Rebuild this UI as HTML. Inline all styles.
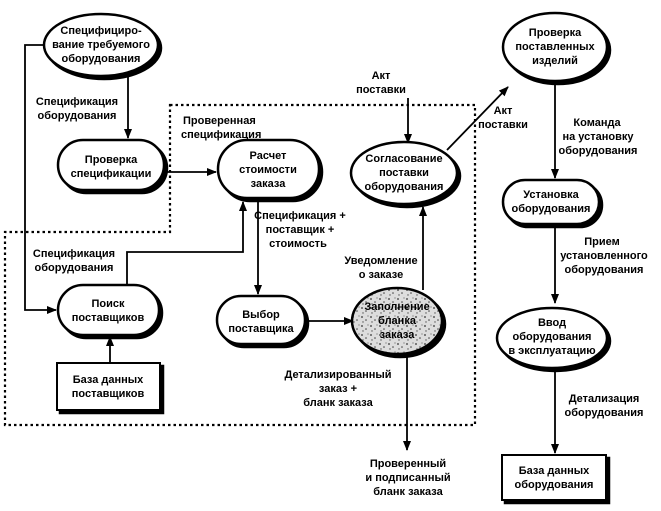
<!DOCTYPE html>
<html><head><meta charset="utf-8"><style>
html,body{margin:0;padding:0;background:#fff;}
svg{display:block;}
text{font-family:"Liberation Sans","DejaVu Sans",sans-serif;font-size:11px;font-weight:bold;fill:#000;text-anchor:middle;}
.l{text-anchor:start;}
</style></head><body>
<svg width="661" height="511" viewBox="0 0 661 511" xmlns="http://www.w3.org/2000/svg">
<defs>
<marker id="a" markerWidth="10" markerHeight="10" refX="9" refY="5" orient="auto" markerUnits="userSpaceOnUse">
<path d="M0,1 L10,5 L0,9 Z" fill="#000"/></marker>
<pattern id="sp" width="9" height="9" patternUnits="userSpaceOnUse">
<rect width="9" height="9" fill="#ddd"/>
<circle cx="2" cy="2" r="0.9" fill="#333"/><circle cx="6" cy="5" r="0.8" fill="#444"/><circle cx="3" cy="7" r="0.7" fill="#555"/><circle cx="8" cy="1" r="0.6" fill="#666"/>
</pattern>
</defs>

<!-- dotted boundary -->
<path d="M170,105 L475,105 L475,425 L5,425 L5,232 L170,232 Z" fill="none" stroke="#000" stroke-width="2.2" stroke-dasharray="2.5,3"/>

<g stroke="#000" stroke-width="1.8" fill="none">
<!-- N1 left to N7 -->
<path d="M46,45 L25,45 L25,310 L56,310" marker-end="url(#a)"/>
<path d="M128,76 L128,138" marker-end="url(#a)"/>
<path d="M166,172 L216,172" marker-end="url(#a)"/>
<path d="M127,285 L127,252 L243,252 L243,202" marker-end="url(#a)"/>
<path d="M258,201 L258,294" marker-end="url(#a)"/>
<path d="M306,321 L353,321" marker-end="url(#a)"/>
<path d="M423,290 L423,207" marker-end="url(#a)"/>
<path d="M408,98 L408,143" marker-end="url(#a)"/>
<path d="M447,150 L508,87" marker-end="url(#a)"/>
<path d="M555,80 L555,178" marker-end="url(#a)"/>
<path d="M555,226 L555,303" marker-end="url(#a)"/>
<path d="M555,368 L555,453" marker-end="url(#a)"/>
<path d="M407,351 L407,450" marker-end="url(#a)"/>
<path d="M110,362 L110,337" marker-end="url(#a)"/>
</g>

<!-- nodes: shadow + shape -->
<g stroke="#000" stroke-width="2.5">
<ellipse cx="104" cy="48" rx="57" ry="31" fill="#000"/>
<ellipse cx="101" cy="45" rx="57" ry="31" fill="#fff"/>
<rect x="61" y="143" width="106" height="50" rx="25" fill="#000"/>
<rect x="58" y="140" width="106" height="50" rx="25" fill="#fff"/>
<rect x="221" y="143" width="101" height="58" rx="29" fill="#000"/>
<rect x="218" y="140" width="101" height="58" rx="29" fill="#fff"/>
<ellipse cx="407" cy="176" rx="53" ry="31" fill="#000"/>
<ellipse cx="404" cy="173" rx="53" ry="31" fill="#fff"/>
<ellipse cx="558" cy="50" rx="52" ry="34" fill="#000"/>
<ellipse cx="555" cy="47" rx="52" ry="34" fill="#fff"/>
<rect x="506" y="183" width="96" height="44" rx="22" fill="#000"/>
<rect x="503" y="180" width="96" height="44" rx="22" fill="#fff"/>
<rect x="61" y="288" width="101" height="50" rx="25" fill="#000"/>
<rect x="58" y="285" width="101" height="50" rx="25" fill="#fff"/>
<rect x="220" y="299" width="88" height="48" rx="24" fill="#000"/>
<rect x="217" y="296" width="88" height="48" rx="24" fill="#fff"/>
<ellipse cx="400" cy="324" rx="45" ry="33" fill="#000"/>
<ellipse cx="397" cy="321" rx="45" ry="33" fill="url(#sp)"/>
<ellipse cx="555" cy="341" rx="55" ry="30" fill="#000"/>
<ellipse cx="552" cy="338" rx="55" ry="30" fill="#fff"/>
<rect x="60" y="366" width="103" height="47" fill="#000"/>
<rect x="57" y="363" width="103" height="47" fill="#fff" stroke-width="2"/>
<rect x="505" y="458" width="104" height="45" fill="#000"/>
<rect x="502" y="455" width="104" height="45" fill="#fff" stroke-width="2"/>
</g>

<!-- node text -->
<text x="101" y="34">Специфициро-</text><text x="101" y="48">вание требуемого</text><text x="101" y="62">оборудования</text>
<text x="111" y="163">Проверка</text><text x="111" y="177">спецификации</text>
<text x="268" y="159">Расчет</text><text x="268" y="173">стоимости</text><text x="268" y="187">заказа</text>
<text x="404" y="162">Согласование</text><text x="404" y="176">поставки</text><text x="404" y="190">оборудования</text>
<text x="555" y="36">Проверка</text><text x="555" y="50">поставленных</text><text x="555" y="64">изделий</text>
<text x="551" y="198">Установка</text><text x="551" y="212">оборудования</text>
<text x="108" y="307">Поиск</text><text x="108" y="321">поставщиков</text>
<text x="261" y="318">Выбор</text><text x="261" y="332">поставщика</text>
<text x="397" y="310">Заполнение</text><text x="397" y="324">бланка</text><text x="397" y="338">заказа</text>
<text x="552" y="326">Ввод</text><text x="552" y="340">оборудования</text><text x="552" y="354">в эксплуатацию</text>
<text x="108" y="383">База данных</text><text x="108" y="397">поставщиков</text>
<text x="554" y="474">База данных</text><text x="554" y="488">оборудования</text>

<!-- labels -->
<text x="77" y="105">Спецификация</text><text x="77" y="119">оборудования</text>
<text class="l" x="183" y="124">Проверенная</text><text class="l" x="181" y="138">спецификация</text>
<text x="74" y="257">Спецификация</text><text x="74" y="271">оборудования</text>
<text x="300" y="219">Спецификация +</text><text x="300" y="233">поставщик +</text><text x="298" y="247">стоимость</text>
<text x="381" y="264">Уведомление</text><text x="381" y="278">о заказе</text>
<text x="381" y="79">Акт</text><text x="381" y="93">поставки</text>
<text x="503" y="114">Акт</text><text x="503" y="128">поставки</text>
<text x="597" y="126">Команда</text><text x="598" y="140">на установку</text><text x="598" y="154">оборудования</text>
<text x="602" y="245">Прием</text><text x="604" y="259">установленного</text><text x="604" y="273">оборудования</text>
<text x="604" y="402">Детализация</text><text x="604" y="416">оборудования</text>
<text x="338" y="378">Детализированный</text><text x="338" y="392">заказ +</text><text x="338" y="406">бланк заказа</text>
<text x="408" y="467">Проверенный</text><text x="408" y="481">и подписанный</text><text x="408" y="495">бланк заказа</text>
</svg>
</body></html>
